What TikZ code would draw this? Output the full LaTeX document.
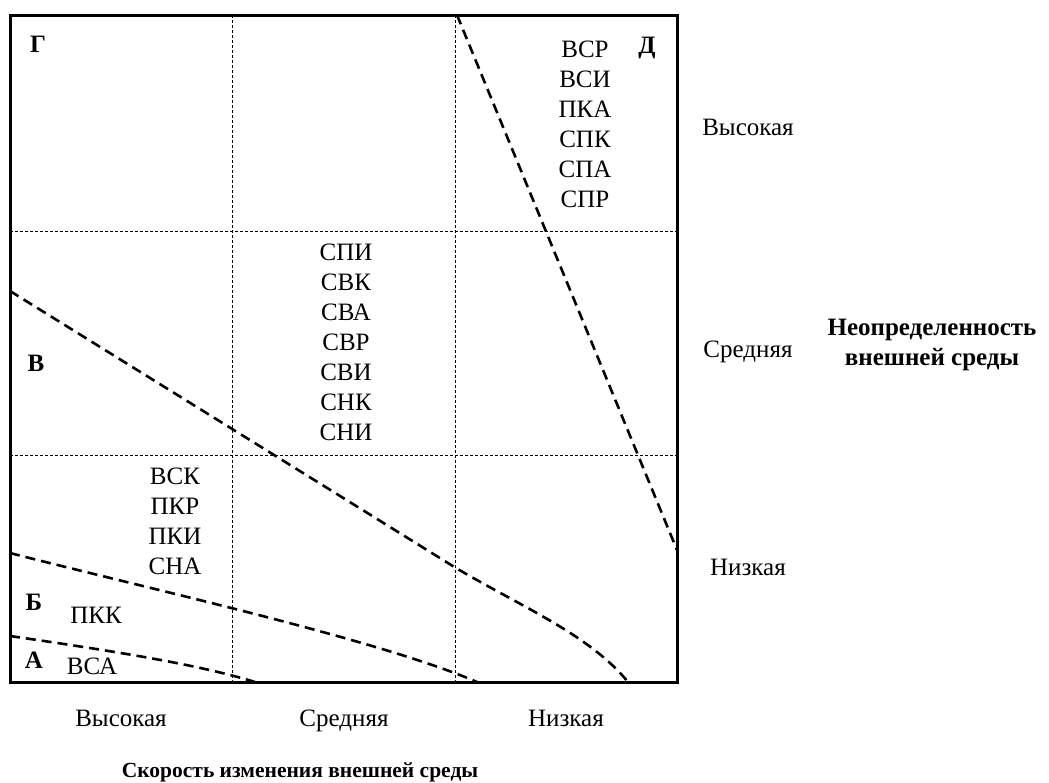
\documentclass[tikz,border=0pt]{standalone}
\usepackage{fontspec}
\setmainfont{Liberation Serif}
\begin{document}
\begin{tikzpicture}[x=1pt,y=-1pt,
  txt/.style={font=\fontsize{25}{30}\selectfont, inner sep=0pt},
  axislbl/.style={txt, anchor=base},
  col/.style={txt, align=center},
  zlabel/.style={txt, font=\fontsize{25}{30}\selectfont\bfseries},
  gridline/.style={line width=1pt, dash pattern=on 3pt off 2pt},
  zone/.style={line width=2.6pt, dash pattern=on 10pt off 6pt},
  frame/.style={line width=3pt}]
\useasboundingbox (0,0) rectangle (1049,782);
% frame corners
\coordinate (tl) at (10,15);
\coordinate (br) at (677,682);
% zone boundaries
\coordinate (d1) at (457,15);
\coordinate (d2) at (677,550);
\coordinate (v1) at (10,291);
\coordinate (v2) at (456,568);
\coordinate (v3) at (628,682);
\coordinate (b1) at (10,553);
\coordinate (b2) at (477,682);
\coordinate (a1) at (10,636);
\coordinate (a2) at (255,682);
\draw[zone] (d1) -- (d2);
\draw[zone] (v1) -- (v2) .. controls (520,606) and (590,635) .. (v3);
\draw[zone] (b1) .. controls (150,589) and (380,640) .. (b2);
\draw[zone] (a1) .. controls (120,652) and (200,665) .. (a2);
% grid
\coordinate (gx1t) at (232,15);  \coordinate (gx1b) at (232,682);
\coordinate (gx2t) at (455,15);  \coordinate (gx2b) at (455,682);
\coordinate (gy1l) at (10,231);  \coordinate (gy1r) at (677,231);
\coordinate (gy2l) at (10,455);  \coordinate (gy2r) at (677,455);
\draw[gridline] (gx1t) -- (gx1b);
\draw[gridline] (gx2t) -- (gx2b);
\draw[gridline] (gy1l) -- (gy1r);
\draw[gridline] (gy2l) -- (gy2r);
\draw[frame] (tl) rectangle (br);
% zone letters
\node[zlabel] (G) at (38,44) {Г};
\node[zlabel] (D) at (647,48) {Д};
\node[zlabel] (V) at (36,363) {В};
\node[zlabel] (B) at (34,602) {Б};
\node[zlabel] (A) at (34,660) {А};
% strategy lists
\node[col] (cd) at (585,124) {ВСР\\ВСИ\\ПКА\\СПК\\СПА\\СПР};
\node[col] (cm) at (346,342) {СПИ\\СВК\\СВА\\СВР\\СВИ\\СНК\\СНИ};
\node[col] (cl) at (175,521) {ВСК\\ПКР\\ПКИ\\СНА};
\node[txt] (pkk) at (96,615) {ПКК};
\node[txt] (vsa) at (92,666) {ВСА};
% right axis
\node[axislbl] (r1) at (748,135) {Высокая};
\node[axislbl] (r2) at (748,357) {Средняя};
\node[axislbl] (r3) at (748,575) {Низкая};
\node[zlabel, align=center] (rt) at (932,345) {Неопределенность\\внешней среды};
% bottom axis
\node[axislbl] (b1l) at (121,726) {Высокая};
\node[axislbl] (b2l) at (344,726) {Средняя};
\node[axislbl] (b3l) at (566,726) {Низкая};
\node[zlabel, font=\fontsize{21.5}{26}\selectfont\bfseries] (bt) at (300,772) {Скорость изменения внешней среды};
\end{tikzpicture}
\end{document}
